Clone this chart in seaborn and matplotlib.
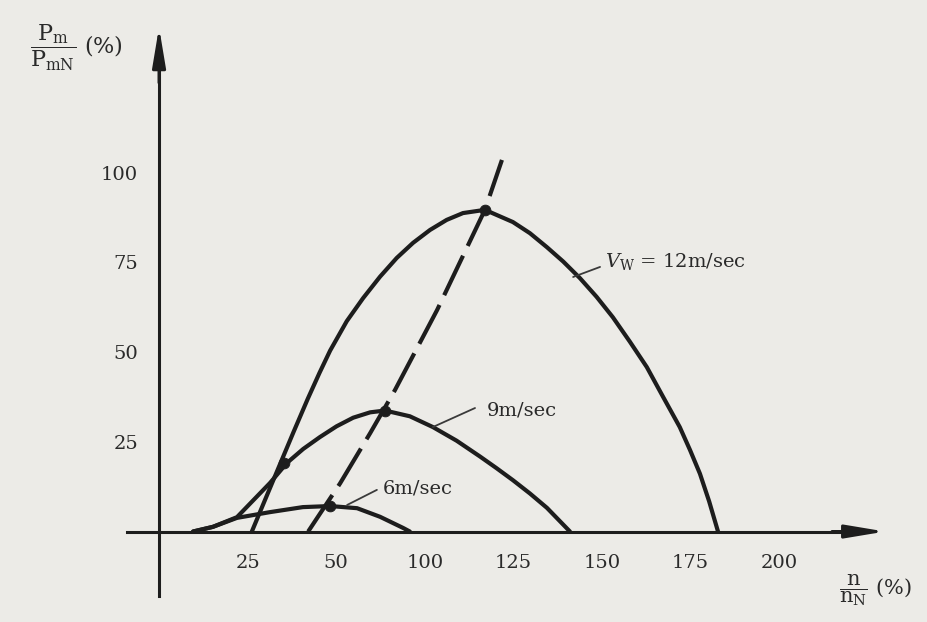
import numpy as np
import pandas as pd
import matplotlib
matplotlib.use('Agg')
import matplotlib.pyplot as plt
import seaborn as sns

# ---------------- data ----------------
# x in axis units (tick spacing 25), y in % of rated power
v12_x = [26.2, 30.0, 34.0, 38.0, 42.0, 45.3, 48.3, 53.0, 57.6, 62.4, 67.1, 71.7, 76.5, 81.2, 85.8, 92.0,
         99.9, 104.7, 109.5, 114.1, 118.8, 123.5, 128.1, 132.9, 137.7, 142.3, 147.0, 149.9, 152.7, 155.3, 157.8]
v12_y = [0.0, 9.0, 18.4, 27.8, 37.0, 44.2, 50.4, 58.6, 65.0, 71.0, 76.2, 80.4, 84.0, 86.8, 88.7, 89.6,
         86.2, 83.1, 79.2, 75.2, 70.6, 65.4, 59.7, 52.9, 45.8, 37.5, 29.1, 22.7, 16.1, 8.4, 0.0]

v9_x = [9.6, 15.2, 22.0, 26.5, 31.3, 36.1, 40.7, 45.4, 50.1, 54.8, 59.6, 63.8, 70.8, 77.3, 84.0,
        90.6, 95.2, 99.9, 104.7, 109.5, 116.0]
v9_y = [0.0, 1.3, 4.0, 8.6, 13.5, 19.1, 23.0, 26.3, 29.3, 31.7, 33.2, 33.7, 32.1, 29.1, 25.3,
        20.9, 17.7, 14.3, 10.6, 6.6, 0.0]

v6_x = [9.6, 15.2, 22.0, 31.3, 40.6, 48.3, 55.9, 62.4, 68.9, 70.8]
v6_y = [0.0, 1.3, 3.8, 5.4, 6.8, 7.1, 6.5, 4.1, 1.0, 0.0]

opt_x = [42.1, 51.1, 59.6, 66.6, 78.5, 92.0, 96.8]
opt_y = [0.0, 13.4, 27.4, 39.4, 61.7, 89.6, 103.5]

dot_x = [92.0, 63.8, 48.3, 35.3]
dot_y = [89.6, 33.7, 7.1, 19.1]

x_tick_pos = [25, 50, 75, 100, 125, 150, 175]
x_tick_labels = ['25', '50', '100', '125', '150', '175', '200']
y_tick_pos = [25, 50, 75, 100]
y_tick_labels = ['25', '50', '75', '100']

curve_labels = [r'$V_{\mathrm{W}}$ = 12m/sec', '9m/sec', '6m/sec']
label_xy = [(125.9, 75.1), (92.6, 33.8), (63.2, 12.1)]
leader_start = [(116.9, 70.9), (77.3, 29.1), (53.1, 7.4)]
leader_end = [(124.5, 73.7), (89.2, 34.4), (61.5, 11.6)]

# ---------------- style ----------------
sns.set_style('white')
plt.rcParams['font.family'] = ['DejaVu Serif']
plt.rcParams['mathtext.fontset'] = 'dejavuserif'

ink = '#1d1d1d'
paper = '#ecebe7'

fig = plt.figure(figsize=(9.27, 6.22), dpi=100, facecolor=paper)
ax = fig.add_axes([0, 0, 1, 1])
ax.set_facecolor(paper)
ax.set_xlim(-44.9, 216.8)
ax.set_ylim(-25.2, 148.05)

# power curves for the three wind speeds
for xs, ys in [(v12_x, v12_y), (v9_x, v9_y), (v6_x, v6_y)]:
    df = pd.DataFrame({'x': xs, 'y': ys})
    sns.lineplot(data=df, x='x', y='y', sort=False, estimator=None, color=ink, linewidth=3.0, ax=ax)

# dashed max-power line
df_opt = pd.DataFrame({'x': opt_x, 'y': opt_y})
sns.lineplot(data=df_opt, x='x', y='y', sort=False, estimator=None, color=ink, linewidth=3.0, ax=ax)
ax.lines[-1].set_dashes((10.5, 2.6))

sns.scatterplot(x=dot_x, y=dot_y, color=ink, s=60, edgecolor=ink, zorder=5, ax=ax)

# curve labels with leader lines
for lab, (tx, ty), (sx, sy), (ex, ey) in zip(curve_labels, label_xy, leader_start, leader_end):
    ax.plot([sx, ex], [sy, ey], color='#3a3a3a', linewidth=1.3)
    ax.text(tx, ty, lab, fontsize=14, color='#2a2a2a', ha='left', va='center')

# axes drawn as arrows through the origin
for side in ['top', 'right']:
    ax.spines[side].set_visible(False)
ax.spines['left'].set_position(('data', 0))
ax.spines['bottom'].set_position(('data', 0))
ax.spines['left'].set_bounds(-18, 130)
ax.spines['bottom'].set_bounds(-9.1, 195)
for side in ['left', 'bottom']:
    ax.spines[side].set_color(ink)
    ax.spines[side].set_linewidth(2.2)

arrow_style = '-|>,head_length=2.4,head_width=0.4'
ax.annotate('', xy=(0, 140.5), xytext=(0, 125), arrowprops=dict(arrowstyle=arrow_style, color=ink, lw=2.2,
                                                                  mutation_scale=10, shrinkA=0, shrinkB=0))
ax.annotate('', xy=(205.0, 0), xytext=(190, 0), arrowprops=dict(arrowstyle=arrow_style, color=ink, lw=2.2,
                                                                 mutation_scale=10, shrinkA=0, shrinkB=0))

ax.set_xticks(x_tick_pos)
ax.set_xticklabels(x_tick_labels)
ax.set_yticks(y_tick_pos)
ax.set_yticklabels(y_tick_labels)
ax.tick_params(axis='x', direction='out', length=7, width=1.6, pad=9, labelsize=14, colors='#2a2a2a')
ax.tick_params(axis='y', direction='out', length=8, width=1.6, pad=7, labelsize=14, colors='#2a2a2a')
ax.set_xlabel('')
ax.set_ylabel('')

# axis titles
ax.text(-36.4, 134.7, r'$\dfrac{\mathrm{P_m}}{\mathrm{P_{mN}}}$ (%)', fontsize=16, color='#2a2a2a',
        ha='left', va='center')
ax.text(212.5, -16.3, r'$\dfrac{\mathrm{n}}{\mathrm{n_N}}$ (%)', fontsize=15, color='#2a2a2a',
        ha='right', va='center')

fig.savefig('out.png', dpi=100, facecolor=paper)
